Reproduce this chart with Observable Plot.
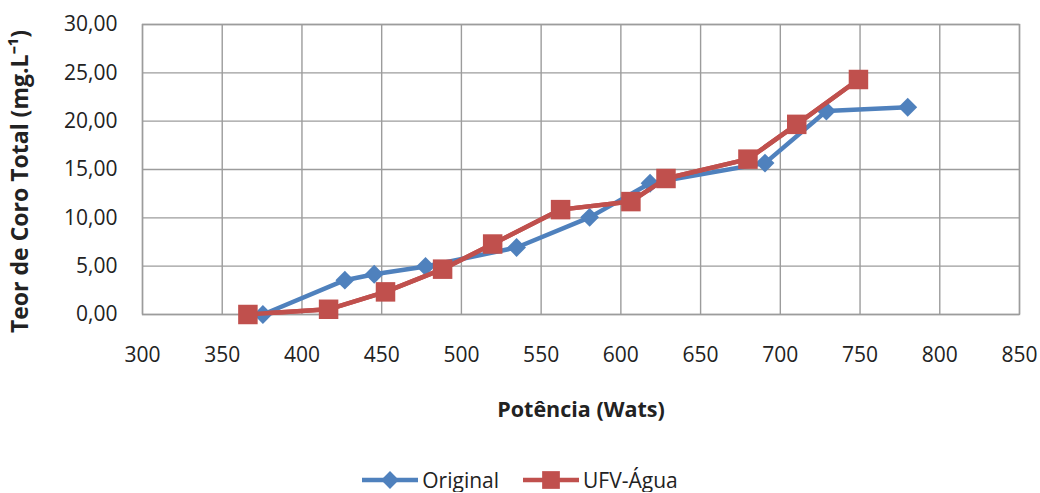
<!DOCTYPE html>
<html><head><meta charset="utf-8">
<script src="https://cdn.jsdelivr.net/npm/d3@7"></script>
<script src="https://cdn.jsdelivr.net/npm/@observablehq/plot@0.6"></script>
<style>
body{margin:0;background:#fff;font-family:"Open Sans",sans-serif;overflow:hidden;}
#legend{display:flex;justify-content:center;align-items:center;margin-top:28px;height:24px;font-size:21px;line-height:1.05;color:#222;}
#legend .item{display:flex;align-items:center;margin:0 12px;}
#legend svg{margin-right:4px;}
</style></head><body><div id="chart"></div><div id="legend"></div>
<script>
const seriesNames = ["Original", "UFV-Água"];
const seriesColors = ["#4F81BD", "#C0504D"];
const seriesSymbols = ["diamond2", "square"];
const originalX = [375.5, 426.9, 445.3, 477.5, 534.6, 580.4, 618.3, 690.4, 728.9, 779.9];
const originalY = [0.00, 3.55, 4.17, 4.96, 6.93, 10.05, 13.58, 15.66, 21.05, 21.44];
const ufvX = [366.1, 416.7, 452.4, 488.2, 519.6, 562.2, 606.3, 628.3, 679.7, 710.3, 749.0];
const ufvY = [0.00, 0.54, 2.34, 4.69, 7.29, 10.85, 11.68, 14.07, 16.07, 19.67, 24.31];
const xTicks = [300, 350, 400, 450, 500, 550, 600, 650, 700, 750, 800, 850];
const yTicks = [0, 5, 10, 15, 20, 25, 30];
const xLabel = "Potência (Wats)";
const yLabel = "Teor de Coro Total (mg.L⁻¹)";

const data = [
  ...originalX.map((x, i) => ({series: seriesNames[0], x, y: originalY[i]})),
  ...ufvX.map((x, i) => ({series: seriesNames[1], x, y: ufvY[i]}))
];
const fmt = d => d.toFixed(2).replace(".", ",");
const grid = "#9c9c9c";

const chart = Plot.plot({
  width: 1040,
  height: 440,
  marginLeft: 142,
  marginRight: 21,
  marginTop: 24,
  marginBottom: 126,
  style: {fontFamily: "'Open Sans', sans-serif", fontSize: "21px", color: "#222", background: "#fff"},
  x: {domain: [300, 850]},
  y: {domain: [0, 30]},
  color: {domain: seriesNames, range: seriesColors},
  symbol: {domain: seriesNames, range: seriesSymbols},
  marks: [
    Plot.gridX(xTicks, {stroke: grid, strokeOpacity: 1, strokeWidth: 1.4}),
    Plot.gridY(yTicks, {stroke: grid, strokeOpacity: 1, strokeWidth: 1.4}),
    Plot.frame({stroke: grid, strokeWidth: 1.4}),
    Plot.axisX(xTicks, {tickSize: 0, tickPadding: 33, label: xLabel, labelAnchor: "center", labelOffset: 102, labelArrow: "none"}),
    Plot.axisY(yTicks, {tickSize: 0, tickPadding: 25, tickFormat: fmt, label: yLabel, labelAnchor: "center", labelOffset: 131, labelArrow: "none"}),
    Plot.line(data, {x: "x", y: "y", z: "series", stroke: "series", strokeWidth: 4.5}),
    Plot.dot(data.filter(d => d.series === seriesNames[0]), {x: "x", y: "y", symbol: "series", fill: "series", r: 8.5, stroke: "none"}),
    Plot.line(data.filter(d => d.series === seriesNames[1]), {x: "x", y: "y", stroke: "series", strokeWidth: 4.5}),
    Plot.dot(data.filter(d => d.series === seriesNames[1]), {x: "x", y: "y", symbol: "series", fill: "series", r: 11, stroke: "none"})
  ]
});
d3.select(chart).selectAll('[aria-label="x-axis label"]')
  .attr("font-weight", "bold").attr("font-size", 21.5);
d3.select(chart).selectAll('[aria-label="y-axis label"]')
  .attr("font-weight", "bold").attr("font-size", 23)
  .selectAll("text").attr("dx", -12);
document.getElementById("chart").appendChild(chart);

const legend = d3.select("#legend");
seriesNames.forEach((name, i) => {
  const item = legend.append("div").attr("class", "item");
  const s = item.append("svg").attr("width", 56).attr("height", 24);
  s.append("line").attr("x1", 0).attr("x2", 56).attr("y1", 12).attr("y2", 12)
    .attr("stroke", seriesColors[i]).attr("stroke-width", 4.5);
  const sym = i === 0 ? d3.symbolDiamond2 : d3.symbolSquare;
  const size = i === 0 ? Math.PI * 8 * 8 : Math.PI * 10 * 10;
  s.append("path").attr("d", d3.symbol(sym, size)()).attr("transform", "translate(28,12)")
    .attr("fill", seriesColors[i]);
  item.append("span").text(name);
});
</script>
</body></html>
